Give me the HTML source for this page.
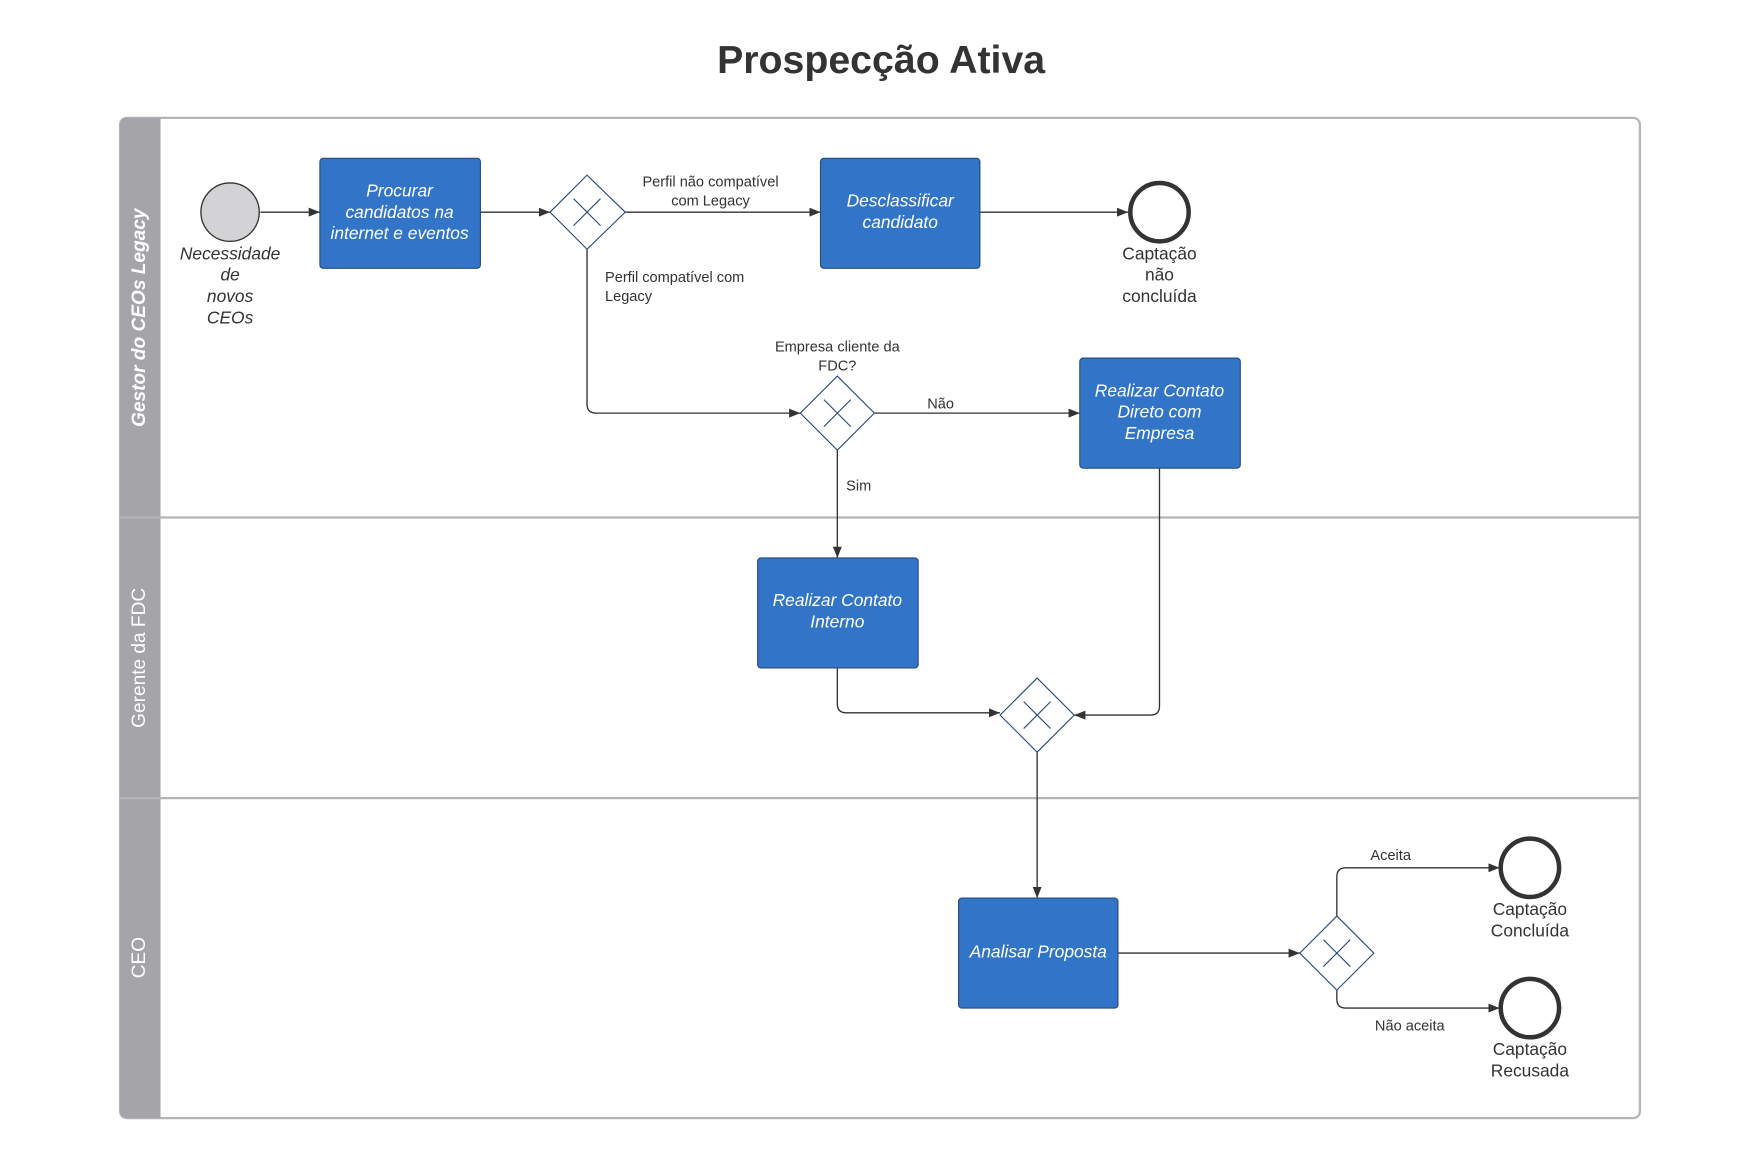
<!DOCTYPE html>
<html><head><meta charset="utf-8"><style>
html,body{margin:0;padding:0;background:#fff;}
svg{display:block;}
text{font-family:"Liberation Sans",Arial,sans-serif;}
</style></head><body>
<svg width="1760" height="1172" viewBox="0 0 1568 1044" preserveAspectRatio="none" xmlns="http://www.w3.org/2000/svg">
<defs>
<marker id="a" viewBox="0 0 10 10" refX="10" refY="5" markerWidth="10" markerHeight="10" markerUnits="userSpaceOnUse" orient="auto"><path d="M0,1 L10,5 L0,9 z" fill="#333"/></marker>
</defs>
<rect width="1568" height="1044" fill="#fff"/>
<text x="785" y="65" text-anchor="middle" font-size="35" font-weight="bold" fill="#333">Prospecção Ativa</text>

<rect x="107" y="105" width="1354" height="891" rx="6" fill="#fff" stroke="#b5b5b8" stroke-width="2"/>
<path d="M113,105 H143 V996 H113 Q107,996 107,990 V111 Q107,105 113,105 Z" fill="#a5a5a9"/>
<line x1="107" y1="461" x2="1461" y2="461" stroke="#b5b5b8" stroke-width="2"/>
<line x1="107" y1="711" x2="1461" y2="711" stroke="#b5b5b8" stroke-width="2"/>
<text transform="translate(129,283) rotate(-90)" text-anchor="middle" font-size="17" font-weight="bold" font-style="italic" fill="#fff">Gestor do CEOs Legacy</text>
<text transform="translate(129,586) rotate(-90)" text-anchor="middle" font-size="17" fill="#fff">Gerente da FDC</text>
<text transform="translate(129,853) rotate(-90)" text-anchor="middle" font-size="17" fill="#fff">CEO</text>

<g stroke="#333" stroke-width="1.2" fill="none">
<line x1="232" y1="189" x2="285" y2="189" marker-end="url(#a)"/>
<line x1="428" y1="189" x2="490" y2="189" marker-end="url(#a)"/>
<line x1="557" y1="189" x2="731" y2="189" marker-end="url(#a)"/>
<line x1="873" y1="189" x2="1005" y2="189" marker-end="url(#a)"/>
<path d="M523,222 V360 Q523,368 531,368 H713" marker-end="url(#a)"/>
<line x1="779" y1="368" x2="962" y2="368" marker-end="url(#a)"/>
<line x1="746" y1="401" x2="746" y2="497" marker-end="url(#a)"/>
<path d="M746,595 V627 Q746,635 754,635 H891" marker-end="url(#a)"/>
<path d="M1033,417 V629 Q1033,637 1025,637 H957" marker-end="url(#a)"/>
<line x1="924" y1="670" x2="924" y2="800" marker-end="url(#a)"/>
<line x1="996" y1="849" x2="1158" y2="849" marker-end="url(#a)"/>
<path d="M1191,816 V781 Q1191,773 1199,773 H1336" marker-end="url(#a)"/>
<path d="M1191,882 V890 Q1191,898 1199,898 H1336" marker-end="url(#a)"/>
</g>

<circle cx="205" cy="189" r="26" fill="#d3d3d5" stroke="#333" stroke-width="1.2"/>
<circle cx="1033" cy="189" r="26" fill="#fff" stroke="#333" stroke-width="4"/>
<circle cx="1363" cy="773" r="26" fill="#fff" stroke="#333" stroke-width="4"/>
<circle cx="1363" cy="898" r="26" fill="#fff" stroke="#333" stroke-width="4"/>

<g fill="#3275c8" stroke="#2a4a78" stroke-width="1">
<rect x="285" y="141" width="143" height="98" rx="3"/>
<rect x="731" y="141" width="142" height="98" rx="3"/>
<rect x="962" y="319" width="143" height="98" rx="3"/>
<rect x="675" y="497" width="143" height="98" rx="3"/>
<rect x="854" y="800" width="142" height="98" rx="3"/>
</g>

<g fill="#fff" stroke="#2a4a78" stroke-width="1">
<path d="M523,156 L557,189 L523,222 L490,189 Z"/>
<path d="M746,335 L779,368 L746,401 L713,368 Z"/>
<path d="M924,604 L957,637 L924,670 L891,637 Z"/>
<path d="M1191,816 L1224,849 L1191,882 L1158,849 Z"/>
</g>
<g stroke="#2a4a78" stroke-width="1">
<path d="M511,177 L535,201 M535,177 L511,201"/>
<path d="M734,356 L758,380 M758,356 L734,380"/>
<path d="M912,625 L936,649 M936,625 L912,649"/>
<path d="M1179,837 L1203,861 M1203,837 L1179,861"/>
</g>

<g fill="#fff" font-size="15.5" font-style="italic" text-anchor="middle">
<text x="356" y="175">Procurar</text><text x="356" y="194">candidatos na</text><text x="356" y="213">internet e eventos</text>
<text x="802" y="184">Desclassificar</text><text x="802" y="203">candidato</text>
<text x="1033" y="353">Realizar Contato</text><text x="1033" y="372">Direto com</text><text x="1033" y="391">Empresa</text>
<text x="746" y="540">Realizar Contato</text><text x="746" y="559">Interno</text>
<text x="925" y="853">Analisar Proposta</text>
</g>

<g fill="#333" font-size="15.5" text-anchor="middle">
<g font-style="italic"><text x="205" y="231">Necessidade</text><text x="205" y="250">de</text><text x="205" y="269">novos</text><text x="205" y="288">CEOs</text></g>
<text x="1033" y="231">Captação</text><text x="1033" y="250">não</text><text x="1033" y="269">concluída</text>
<text x="1363" y="815">Captação</text><text x="1363" y="834">Concluída</text>
<text x="1363" y="940">Captação</text><text x="1363" y="959">Recusada</text>
</g>

<g fill="#333" font-size="13">
<text x="633" y="166" text-anchor="middle">Perfil não compatível</text>
<text x="633" y="183" text-anchor="middle">com Legacy</text>
<text x="539" y="251">Perfil compatível com</text>
<text x="539" y="268">Legacy</text>
<text x="746" y="313" text-anchor="middle">Empresa cliente da</text>
<text x="746" y="330" text-anchor="middle">FDC?</text>
<text x="838" y="364" text-anchor="middle">Não</text>
<text x="765" y="437" text-anchor="middle">Sim</text>
<text x="1239" y="766" text-anchor="middle">Aceita</text>
<text x="1256" y="918" text-anchor="middle">Não aceita</text>
</g>
</svg>
</body></html>
